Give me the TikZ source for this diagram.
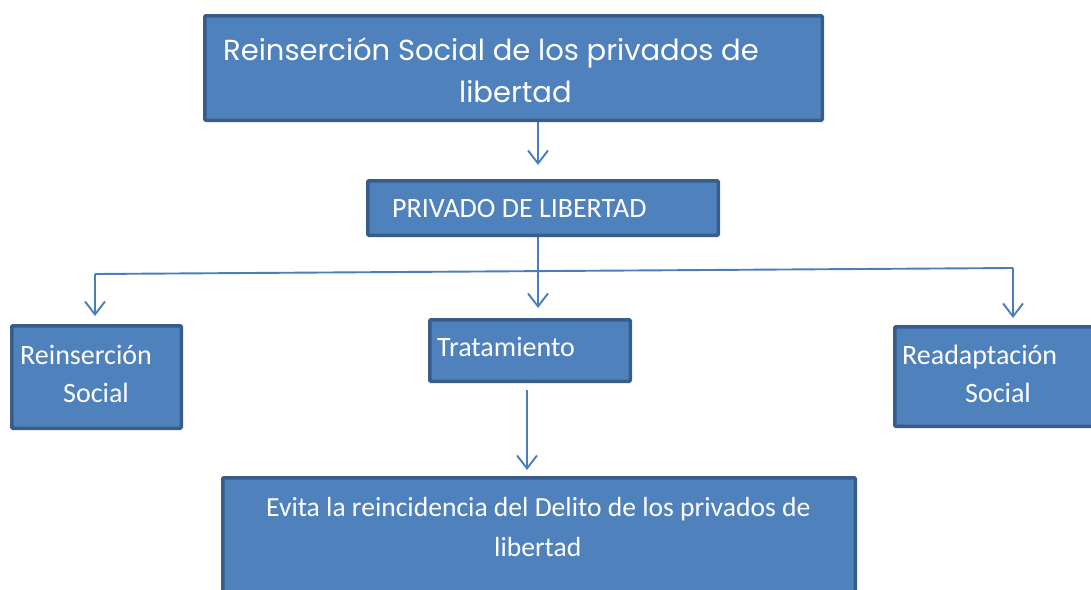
\documentclass[tikz,border=0pt]{standalone}
\usepackage{fontspec}
\setmainfont{Carlito}
\newfontfamily\titulofont{Poppins}
\usetikzlibrary{arrows.meta}
\definecolor{relleno}{HTML}{4F81BD}
\definecolor{borde}{HTML}{385D8A}
\definecolor{flecha}{HTML}{4A7EBB}

\begin{document}
\begin{tikzpicture}[x=1pt, y=-1pt, >={Straight Barb[length=13pt, width=20pt]},
    caja/.style={draw=borde, line width=3.5pt, fill=relleno, rounded corners=1pt},
    texto/.style={text=white, inner sep=0pt, anchor=base west, font=\fontsize{28}{38}\selectfont},
    titulo/.style={texto, font=\titulofont\fontsize{29}{38}\selectfont},
    rama/.style={draw=flecha, line width=1.9pt},
    conector/.style={rama, ->}]
  \useasboundingbox (0,0) rectangle (1091,589);
  % cajas
  \node[caja, minimum width=617.5pt, minimum height=104.5pt] (reinsercion) at (513.5,68) {};
  \node[caja, minimum width=350.5pt, minimum height=54.5pt] (privado) at (543,208) {};
  \node[caja, minimum width=200.5pt, minimum height=61.5pt] (tratamiento) at (530,350.5) {};
  \node[caja, minimum width=169.5pt, minimum height=102.5pt] (social) at (96.5,377) {};
  \node[caja, minimum width=208.5pt, minimum height=99.5pt] (readaptacion) at (999,376.5) {};
  \node[caja, minimum width=632.5pt, minimum height=140.5pt] (evita) at (539,548) {};
  % textos
  \node[titulo] (reinsercion-a) at (223,60) {Reinserción Social de los privados de};
  \node[titulo] (reinsercion-b) at (459,102) {libertad};
  \node[texto] (privado-a) at (392,217) {PRIVADO DE LIBERTAD};
  \node[texto] (tratamiento-a) at (437,356) {Tratamiento};
  \node[texto] (social-a) at (20,364) {Reinserción};
  \node[texto] (social-b) at (63,402) {Social};
  \node[texto] (readaptacion-a) at (902,364) {Readaptación};
  \node[texto] (readaptacion-b) at (965,402) {Social};
  \node[texto, font=\fontsize{27.6}{38}\selectfont] (evita-a) at (266,516) {Evita la reincidencia del Delito de los privados de};
  \node[texto, font=\fontsize{27.6}{38}\selectfont] (evita-b) at (494,556) {libertad};
  % conectores
  \coordinate (ramaizq) at (95,274);
  \coordinate (ramader) at (1013,268);
  \draw[conector] ([xshift=24.5pt]reinsercion.south) -- ([xshift=-5pt, yshift=14pt]privado.north);
  \draw[conector] ([xshift=-5pt]privado.south) -- ([xshift=8pt, yshift=10pt]tratamiento.north);
  \draw[rama] (ramaizq) -- (ramader);
  \draw[conector, shorten >=8pt] (ramaizq) -- (ramaizq |- social.north);
  \draw[conector, shorten >=7pt] (ramader) -- (ramader |- readaptacion.north);
  \draw[conector] ([xshift=-3pt, yshift=-7pt]tratamiento.south) -- ([xshift=-12pt, yshift=6pt]evita.north);
\end{tikzpicture}
\end{document}
